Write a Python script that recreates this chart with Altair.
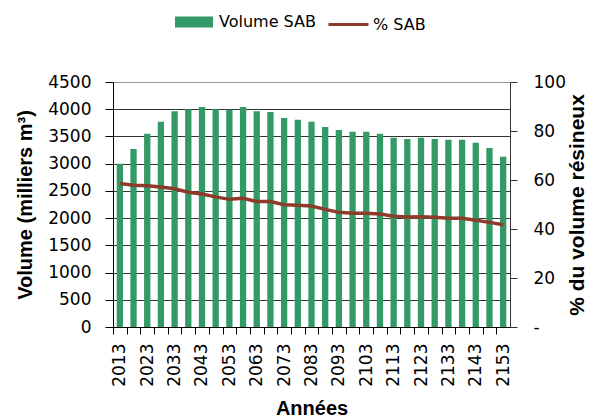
import altair as alt
import pandas as pd

years = [2013, 2018, 2023, 2028, 2033, 2038, 2043, 2048, 2053, 2058,
         2063, 2068, 2073, 2078, 2083, 2088, 2093, 2098, 2103, 2108,
         2113, 2118, 2123, 2128, 2133, 2138, 2143, 2148, 2153]
volume = [3000, 3270, 3550, 3770, 3965, 4000, 4040, 4000, 3990, 4040,
          3965, 3950, 3840, 3805, 3770, 3675, 3620, 3585, 3585, 3550,
          3475, 3455, 3475, 3455, 3440, 3440, 3385, 3290, 3125]
pct = [58.6, 57.9, 57.7, 57.1, 56.4, 55.0, 54.3, 53.1, 52.1, 52.5,
       51.2, 51.2, 49.9, 49.7, 49.4, 48.0, 46.8, 46.4, 46.4, 46.1,
       45.2, 44.9, 45.0, 44.8, 44.4, 44.4, 43.6, 42.7, 41.7]
left_ticks = [0, 500, 1000, 1500, 2000, 2500, 3000, 3500, 4000, 4500]
right_ticks = [0, 20, 40, 60, 80, 100]

df = pd.DataFrame({"annee": years, "volume": volume, "pct": pct,
                   "s1": "Volume SAB", "s2": "% SAB"})

W, H = 397, 245
step = W / len(years)
GREEN = "#339966"
BROWN = "#8E3B2B"
LAB = "DejaVu Sans"
TIT = "Liberation Sans"

x = alt.X(
    "annee:O",
    title="Années",
    scale=alt.Scale(paddingInner=0, paddingOuter=0),
    axis=alt.Axis(
        labelAngle=270,
        labelExpr="(datum.value - 2013) % 10 == 0 ? datum.label : ''",
        labelOverlap=False,
        tickOffset=-step / 2,
        labelOffset=step / 2,
        tickSize=7,
        labelPadding=9,
        domainColor="black",
        tickColor="black",
        labelColor="black",
        labelFont=LAB,
        labelFontSize=17,
        titleFont=TIT,
        titleFontSize=20,
        titleFontWeight="bold",
        titleColor="black",
        titleX=W / 2,
        titleY=87,
        titleBaseline="alphabetic",
        titleAlign="center",
        grid=False,
    ),
)

bars = alt.Chart(df).mark_bar(width=alt.RelativeBandSize(0.46)).encode(
    x=x,
    y=alt.Y(
        "volume:Q",
        scale=alt.Scale(domain=[0, 4500], nice=False),
        axis=alt.Axis(
            values=left_ticks,
            format="d",
            title="Volume (milliers m³)",
            tickSize=8,
            labelPadding=14,
            domainColor="black",
            tickColor="black",
            labelColor="black",
            labelFont=LAB,
            labelFontSize=17,
            titleFont=TIT,
            titleFontSize=20,
            titleFontWeight="bold",
            titleColor="black",
            titleAngle=270,
            titleX=-88,
            titleY=H / 2,
            titleBaseline="middle",
            titleAlign="center",
            grid=True,
            gridColor={"condition": {"test": "datum.value == 4500", "value": "#999999"},
                       "value": "#333333"},
            gridOpacity=1,
        ),
    ),
    color=alt.Color(
        "s1:N",
        scale=alt.Scale(range=[GREEN]),
        legend=alt.Legend(
            orient="none",
            legendX=62,
            legendY=-79,
            title=None,
            padding=0,
            symbolType="M-1,-0.29L1,-0.29L1,0.29L-1,0.29Z",
            symbolSize=1444,
            symbolStrokeWidth=0,
            symbolOpacity=1,
            labelFont=LAB,
            labelFontSize=16,
            labelColor="black",
            labelOffset=6,
        ),
    ),
)

line = alt.Chart(df).mark_line(strokeWidth=3.5).encode(
    x=x,
    y=alt.Y(
        "pct:Q",
        scale=alt.Scale(domain=[0, 100], nice=False),
        axis=alt.Axis(
            orient="right",
            values=right_ticks,
            labelExpr="datum.value == 0 ? '-' : datum.label",
            title="% du volume résineux",
            tickSize=7,
            labelPadding=16,
            domainColor="#333333",
            tickColor="#333333",
            labelColor="black",
            labelFont=LAB,
            labelFontSize=17,
            titleFont=TIT,
            titleFontSize=21,
            titleFontWeight="bold",
            titleColor="black",
            titleAngle=270,
            titleX=67,
            titleY=H / 2,
            titleBaseline="middle",
            titleAlign="center",
            grid=False,
        ),
    ),
    stroke=alt.Stroke(
        "s2:N",
        scale=alt.Scale(range=[BROWN]),
        legend=alt.Legend(
            orient="none",
            legendX=214,
            legendY=-79,
            title=None,
            padding=0,
            symbolType="stroke",
            symbolSize=1600,
            symbolStrokeWidth=3,
            labelFont=LAB,
            labelFontSize=16,
            labelColor="black",
            labelOffset=3,
        ),
    ),
)

chart = (
    alt.layer(bars, line)
    .resolve_scale(y="independent", color="independent", stroke="independent")
    .properties(
        width=W,
        height=H,
        autosize=alt.AutoSizeParams(type="none"),
        padding={"left": 105, "top": 74, "right": 77, "bottom": 90},
    )
    .configure_view(stroke=None)
    .configure(background="white")
)

chart.save("out.html", embed_options={"renderer": "svg", "actions": False})
